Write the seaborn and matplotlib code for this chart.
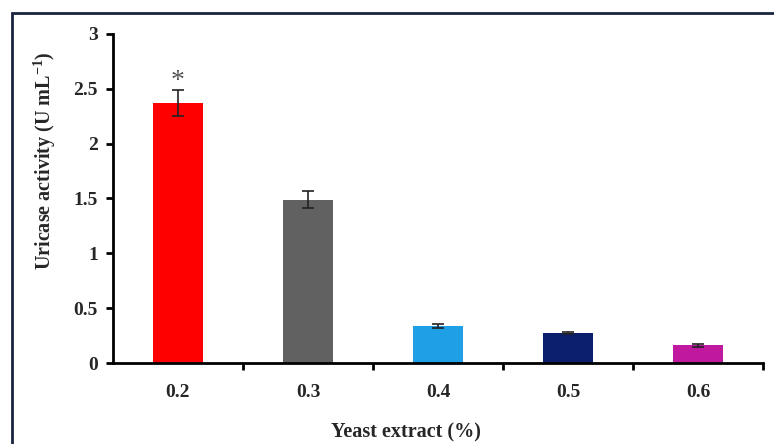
import matplotlib
matplotlib.use("Agg")
import matplotlib.pyplot as plt
import seaborn as sns
from matplotlib.patches import Rectangle

categories = ["0.2", "0.3", "0.4", "0.5", "0.6"]
values = [2.37, 1.49, 0.34, 0.27, 0.16]
errors = [0.12, 0.08, 0.02, 0.01, 0.01]
colors = ["#FF0000", "#616161", "#1E9FE6", "#0B1E6E", "#C0189F"]
yticks = [0, 0.5, 1, 1.5, 2, 2.5, 3]
ytick_labels = ["0", "0.5", "1", "1.5", "2", "2.5", "3"]

sns.set_style("white")
plt.rcParams["font.family"] = ["Liberation Serif", "DejaVu Serif"]
plt.rcParams["font.weight"] = "bold"
plt.rcParams["mathtext.default"] = "regular"

fig = plt.figure(figsize=(7.74, 4.44), dpi=100)
ax = fig.add_axes([113 / 774, 1 - 363 / 444, 650 / 774, (363 - 34) / 444])

sns.barplot(x=categories, y=values, hue=categories, palette=colors,
            legend=False, width=0.39, ax=ax, saturation=1, edgecolor="none")
ax.errorbar(range(len(categories)), values, yerr=errors, fmt="none",
            ecolor="#222222", elinewidth=1.2, capsize=4, capthick=1.2)
ax.text(0, values[0] + errors[0] - 0.04, "*", ha="center", va="bottom",
        fontsize=20, color="#555555", fontweight="normal")

ax.set_xlim(-0.5, 4.5)
ax.set_ylim(0, 3)
ax.set_yticks(yticks)
ax.set_yticklabels(ytick_labels)
ax.set_xticks(range(len(categories)))
ax.set_xticklabels(categories)
ax.set_xticks([0.5, 1.5, 2.5, 3.5, 4.5], minor=True)
ax.tick_params(axis="x", which="major", length=0, pad=15, labelsize=14)
ax.tick_params(axis="x", which="minor", length=5, width=2, direction="out", bottom=True, color="black")
ax.tick_params(axis="y", which="major", length=5, width=2, direction="out", left=True, labelsize=14, pad=6, color="black")
for lab in ax.get_xticklabels() + ax.get_yticklabels():
    lab.set_fontweight("bold")

for s in ["top", "right"]:
    ax.spines[s].set_visible(False)
for s in ["left", "bottom"]:
    ax.spines[s].set_color("black")
    ax.spines[s].set_linewidth(2)

ax.set_xlabel("Yeast extract (%)", fontsize=14.5, fontweight="bold")
ax.set_ylabel(r"Uricase activity (U mL$^{-1}$)", fontsize=14.5, fontweight="bold")
ax.xaxis.set_label_coords((406 - 113) / 650, (363 - 432) / 329)
ax.yaxis.set_label_coords((45 - 113) / 650, (363 - 161) / 329)
ax.xaxis.label.set_va("center")
ax.yaxis.label.set_va("center")
ax.grid(False)

fig.patches.append(Rectangle((12 / 774, -0.05), 1.2, 1 - 13 / 444 + 0.05,
                             transform=fig.transFigure, fill=False,
                             edgecolor="#1a2440", linewidth=2, zorder=10))

fig.savefig("out.png", dpi=100)
